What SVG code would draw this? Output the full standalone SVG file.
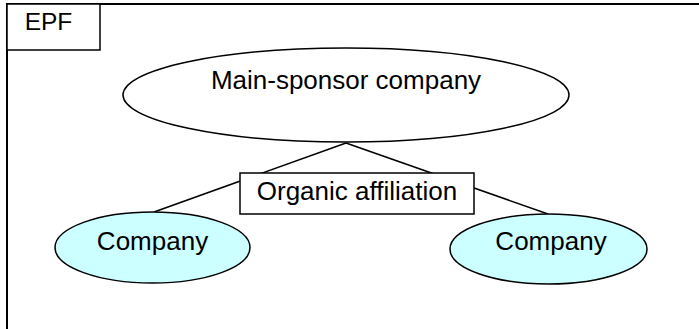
<svg xmlns="http://www.w3.org/2000/svg" width="699" height="329" viewBox="0 0 699 329">
  <style>
    .frame { fill: none; stroke: #000; stroke-width: 2; }
    .box { fill: #fff; stroke: #000; stroke-width: 1.5; }
    .main { fill: #fff; stroke: #000; stroke-width: 1.5; }
    .company { fill: #ccffff; stroke: #000; stroke-width: 1.5; }
    .link { fill: none; stroke: #000; stroke-width: 1.5; }
    .label { font-family: "Liberation Sans", Arial, sans-serif; font-size: 26px; fill: #000; text-anchor: middle; }
  </style>

  <!-- outer frame -->
  <g id="frame">
    <path class="frame" d="M7,329 V4 H699"/>
  </g>

  <!-- EPF tab -->
  <g id="epf">
    <rect class="box" x="7" y="4" width="93" height="46"/>
    <text class="label" x="48.5" y="30" style="font-size:24.5px">EPF</text>
  </g>

  <!-- connectors -->
  <g id="connectors">
    <line class="link" x1="346" y1="143" x2="154" y2="212"/>
    <line class="link" x1="346" y1="143" x2="548" y2="214"/>
  </g>

  <g id="main-sponsor">
    <ellipse class="main" cx="346" cy="95" rx="223" ry="47"/>
    <text class="label" x="346" y="89">Main-sponsor company</text>
  </g>

  <g id="affiliation">
    <rect class="box" x="240" y="173" width="234" height="41"/>
    <text class="label" x="357" y="200">Organic affiliation</text>
  </g>

  <g id="company-left">
    <ellipse class="company" cx="152.5" cy="247.5" rx="97.5" ry="35.5"/>
    <text class="label" x="152.5" y="250">Company</text>
  </g>

  <g id="company-right">
    <ellipse class="company" cx="548.5" cy="249" rx="98.5" ry="35"/>
    <text class="label" x="551" y="250">Company</text>
  </g>
</svg>
